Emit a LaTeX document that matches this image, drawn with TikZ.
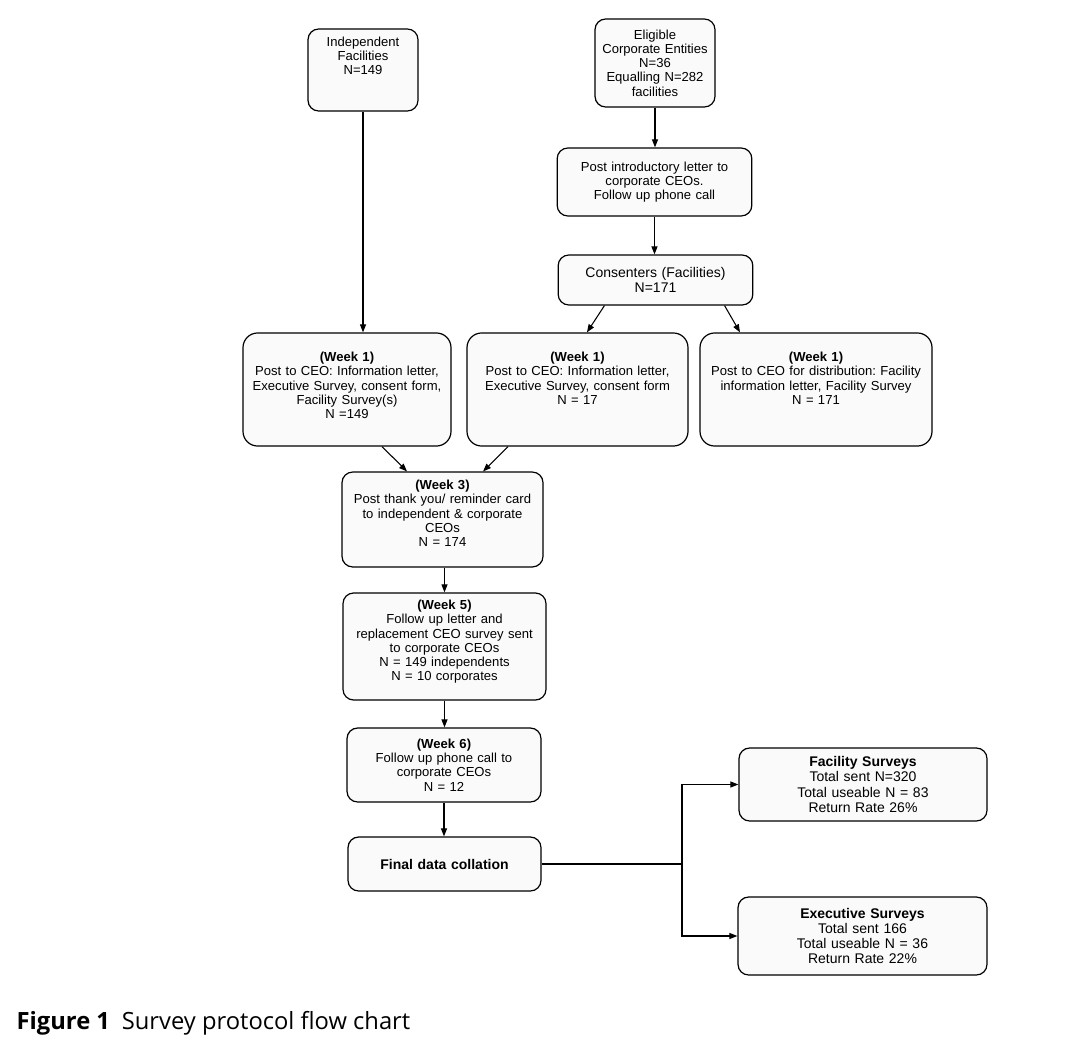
\documentclass[tikz,border=0pt]{standalone}
\usepackage{fontspec}
\setmainfont{Liberation Sans}
\newfontfamily\capfont{Open Sans}
\frenchspacing
\usetikzlibrary{arrows.meta,positioning,calc}
\tikzset{box/.style={draw=black,line width=0.9pt,rounded corners=8pt,fill=black!2,
 align=center,inner xsep=0pt,inner ysep=0pt,font=\fontsize{9.8}{10.7}\selectfont},
 big/.style={font=\fontsize{10.5}{11.3}\selectfont},
 wk/.style={rounded corners=11pt,text height=21.4pt,text depth=63.4pt},
 arr/.style={-{Triangle[length=6pt,width=4.5pt]},line width=0.8pt},
 caption/.style={anchor=base west,font=\capfont\fontsize{17.8}{21}\selectfont}}

\begin{document}
\begin{tikzpicture}[x=0.75pt,y=-0.75pt]
\useasboundingbox (0,0) rectangle (1066,1056);
% sources
\node[box,text width=82.5pt,text height=13.1pt,text depth=48.4pt] (indep) at (363,70) {Independent\\Facilities\\N=149};
\node[box,text width=90pt,minimum height=66pt] (elig) at (655,63) {Eligible\\Corporate Entities\\N=36\\Equalling N=282\\facilities};
\node[box,text width=146pt,minimum height=51pt] (intro) at (654.5,182) {Post introductory letter to\\corporate CEOs.\\Follow up phone call};
\node[box,big,text width=146pt,minimum height=37.5pt] (consent) at (655.5,280) {Consenters (Facilities)\\N=171};
% week 1 mail-out
\node[box,wk,text width=156pt] (w1a) at (347,389.5) {\textbf{(Week 1)}\\Post to CEO: Information letter,\\Executive Survey, consent form,\\Facility Survey(s)\\N =149};
\node[box,wk,text width=165.75pt] (w1b) at (577.5,389.5) {\textbf{(Week 1)}\\Post to CEO: Information letter,\\Executive Survey, consent form\\N = 17};
\node[box,wk,text width=174pt] (w1c) at (816,389.5) {\textbf{(Week 1)}\\Post to CEO for distribution: Facility\\information letter, Facility Survey\\N = 171};
% follow-ups
\node[box,text width=150.75pt,text height=13.1pt,text depth=58.1pt] (w3) at (442.5,519.5) {\textbf{(Week 3)}\\Post thank you/ reminder card\\to independent \& corporate\\CEOs\\N = 174};
\node[box,text width=152.25pt,text height=12.4pt,text depth=67.9pt] (w5) at (444.5,646.5) {\textbf{(Week 5)}\\Follow up letter and\\replacement CEO survey sent\\to corporate CEOs\\N = 149 independents\\N = 10 corporates};
\node[box,text width=145.5pt,minimum height=55.5pt] (w6) at (444,765) {\textbf{(Week 6)}\\Follow up phone call to\\corporate CEOs\\N = 12};
\node[box,big,text width=144.75pt,minimum height=40.5pt] (final) at (444.5,864) {\textbf{Final data collation}};
% results
\node[box,big,text width=186pt,minimum height=54.75pt] (facil) at (863,784.5) {\textbf{Facility Surveys}\\Total sent N=320\\Total useable N = 83\\Return Rate 26\%};
\node[box,big,text width=186.75pt,minimum height=58.5pt] (exec) at (862.5,936) {\textbf{Executive Surveys}\\Total sent 166\\Total useable N = 36\\Return Rate 22\%};
\coordinate (split) at (682,864);

\draw[arr] (indep.south) -- (indep.south|-w1a.north);
\draw[arr] (elig.south) -- (elig.south|-intro.north);
\draw[arr] (intro.south) -- (intro.south|-consent.north);
\draw[arr] ([xshift=-38.3pt]consent.south) -- ([xshift=7.1pt]w1b.north);
\draw[arr] ([xshift=51.8pt]consent.south) -- ([xshift=-57pt]w1c.north);
\draw[arr] ([xshift=26.3pt]w1a.south) -- ([xshift=-26.6pt]w3.north);
\draw[arr] ([xshift=-52.1pt]w1b.south) -- ([xshift=30.4pt]w3.north);
\draw[arr] (w5.north|-w3.south) -- (w5.north);
\draw[arr] (w5.south) -- (w5.south|-w6.north);
\draw[arr] (w6.south) -- (w6.south|-final.north);
\draw[line width=0.8pt] (final.east) -- (split);
\draw[arr] (split) |- (facil.west);
\draw[arr] (split) |- (exec.west);

\node[caption] (cap) at (12,1029) {\textbf{Figure 1}\enspace Survey protocol flow chart};
\end{tikzpicture}
\end{document}
